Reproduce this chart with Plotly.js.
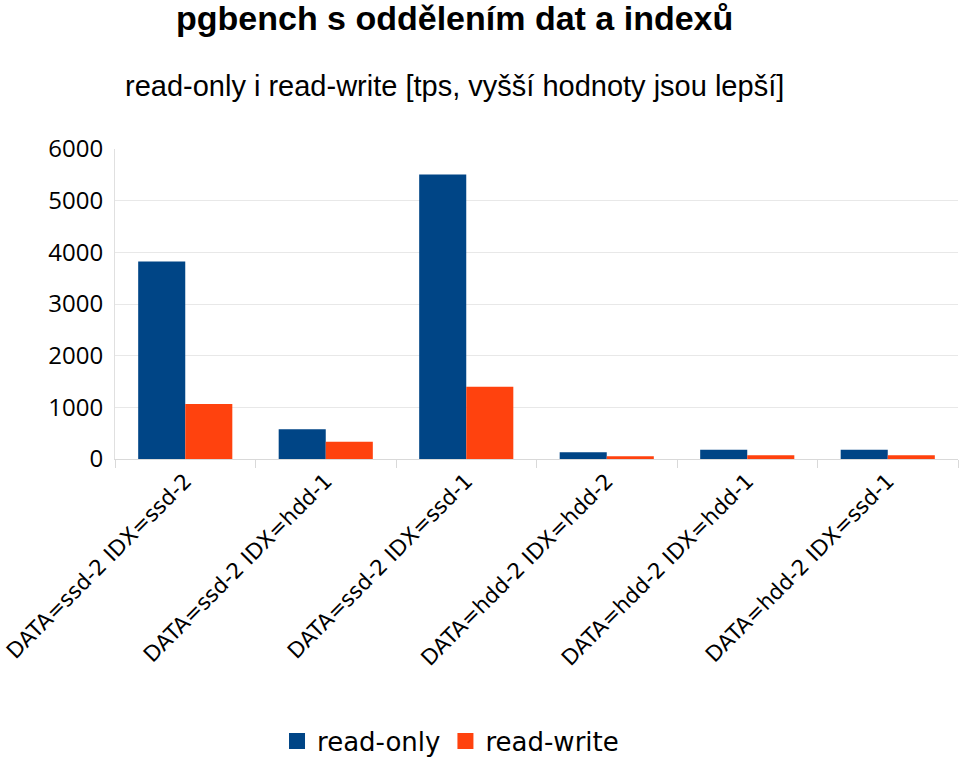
<!DOCTYPE html>
<html>
<head>
<meta charset="utf-8">
<script src="https://cdn.plot.ly/plotly-3.0.1.min.js"></script>
<style>
  html, body { margin: 0; padding: 0; background: #fff; }
  #chart { width: 960px; height: 757px; }
</style>
</head>
<body>
<div id="chart"></div>
<script>
// configurations tested
var configs = [
  "DATA=ssd-2 IDX=ssd-2",
  "DATA=ssd-2 IDX=hdd-1",
  "DATA=ssd-2 IDX=ssd-1",
  "DATA=hdd-2 IDX=hdd-2",
  "DATA=hdd-2 IDX=hdd-1",
  "DATA=hdd-2 IDX=ssd-1"
];

// tps values
var readOnly = [3825, 575, 5505, 130, 180, 180];
var readWrite = [1065, 335, 1400, 52, 72, 72];

var yTicks = [0, 1000, 2000, 3000, 4000, 5000, 6000];

var roColor = "#004586";
var rwColor = "#ff420e";

var traceRO = {
  x: configs, y: readOnly, name: "read-only", type: "bar",
  marker: {color: roColor}, showlegend: false
};
var traceRW = {
  x: configs, y: readWrite, name: "read-write", type: "bar",
  marker: {color: rwColor}, showlegend: false
};

// legend-only entries (bigger squares), drawn on a hidden axis so nothing shows in the plot
var legRO = {
  x: configs, y: readOnly, name: "read-only", type: "scatter", mode: "markers",
  yaxis: "y2", cliponaxis: true, hoverinfo: "skip",
  marker: {symbol: "square", size: 20, color: roColor}
};
var legRW = {
  x: configs, y: readWrite, name: "read-write", type: "scatter", mode: "markers",
  yaxis: "y2", cliponaxis: true, hoverinfo: "skip",
  marker: {symbol: "square", size: 20, color: rwColor}
};

var layout = {
  width: 960,
  height: 757,
  margin: {l: 115, r: 2, t: 149, b: 298, autoexpand: false},
  paper_bgcolor: "#fff",
  plot_bgcolor: "#fff",
  showlegend: true,
  barmode: "group",
  bargap: 0.33,
  bargroupgap: 0,
  font: {family: "DejaVu Sans", color: "#000"},
  xaxis: {
    type: "category",
    automargin: false,
    tickangle: -45,
    tickfont: {family: "DejaVu Sans", size: 21.5, color: "#000"},
    showgrid: false,
    showline: true,
    linecolor: "#d9d9d9",
    ticks: "outside",
    tickson: "boundaries",
    ticklen: 8,
    tickcolor: "#d9d9d9",
    fixedrange: true
  },
  yaxis: {
    automargin: false,
    range: [0, 6000],
    tickvals: yTicks,
    ticktext: yTicks.map(String),
    tickfont: {family: "Open Sans", size: 24, color: "#000"},
    showgrid: true,
    gridcolor: "#e8e8e8",
    showline: true,
    linecolor: "#e0e0e0",
    zeroline: false,
    ticks: "",
    ticklabelstandoff: 6,
    fixedrange: true
  },
  yaxis2: {
    overlaying: "y",
    range: [-20, -10],
    visible: false,
    fixedrange: true
  },
  legend: {
    orientation: "h",
    x: 0.398,
    xanchor: "center",
    yref: "container",
    y: 0.021,
    yanchor: "middle",
    font: {family: "DejaVu Sans", size: 26, color: "#000"},
    itemwidth: 30
  },
  annotations: [
    {
      text: "<b>pgbench s oddělením dat a indexů</b>",
      xref: "paper", yref: "paper",
      x: 0.403, y: 1.4226,
      xanchor: "center", yanchor: "middle",
      showarrow: false,
      font: {family: "Liberation Sans", size: 34, color: "#000"}
    },
    {
      text: "read-only i read-write [tps, vyšší hodnoty jsou lepší]",
      xref: "paper", yref: "paper",
      x: 0.403, y: 1.203,
      xanchor: "center", yanchor: "middle",
      showarrow: false,
      font: {family: "Liberation Sans", size: 29, color: "#000"}
    }
  ]
};

Plotly.newPlot("chart", [traceRO, traceRW, legRO, legRW], layout, {displayModeBar: false, staticPlot: true});
</script>
</body>
</html>
